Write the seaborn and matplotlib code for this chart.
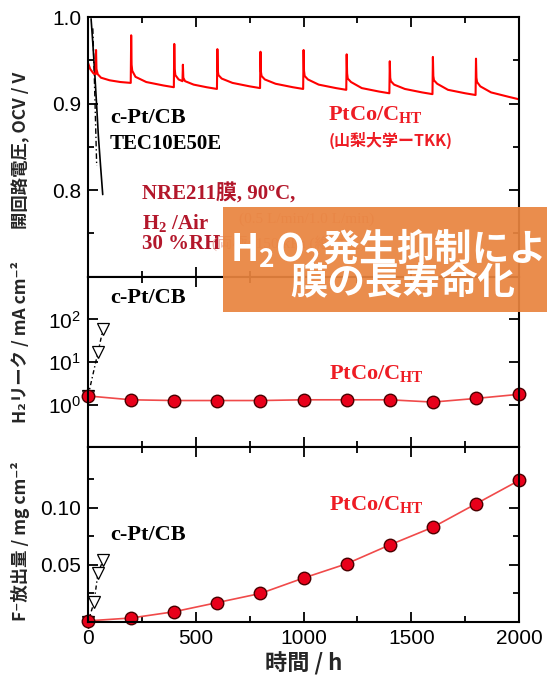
import matplotlib
matplotlib.use("Agg")
import matplotlib.pyplot as plt
import seaborn as sns
import pandas as pd
from matplotlib.patches import Rectangle
from matplotlib.ticker import FixedLocator, NullFormatter, LogLocator, NullLocator

# ---- open-circuit voltage, PtCo/C_HT (durability run) ----
ocv_time = [0, 10, 25, 35, 37, 39, 45, 60, 100, 150, 198,
            200, 202, 205, 220, 270, 350, 398,
            400, 402, 405, 420, 438, 440, 442, 450, 490, 550, 598,
            600, 602, 605, 620, 670, 750, 798,
            800, 802, 805, 820, 870, 950, 998,
            1000, 1002, 1005, 1020, 1070, 1150, 1198,
            1200, 1202, 1205, 1220, 1270, 1350, 1398,
            1400, 1402, 1405, 1420, 1470, 1550, 1598,
            1600, 1602, 1605, 1620, 1670, 1750, 1798,
            1800, 1802, 1805, 1820, 1870, 1950, 2000]
ocv_volt = [0.947, 0.940, 0.935, 0.934, 0.962, 0.940, 0.934, 0.930, 0.927, 0.925, 0.924,
            0.979, 0.945, 0.938, 0.931, 0.925, 0.921, 0.919,
            0.969, 0.940, 0.933, 0.928, 0.926, 0.945, 0.930, 0.926, 0.922, 0.919, 0.917,
            0.963, 0.938, 0.933, 0.929, 0.924, 0.920, 0.918,
            0.960, 0.937, 0.932, 0.928, 0.923, 0.919, 0.917,
            0.962, 0.938, 0.932, 0.928, 0.922, 0.918, 0.916,
            0.957, 0.935, 0.929, 0.925, 0.918, 0.914, 0.912,
            0.949, 0.930, 0.926, 0.922, 0.917, 0.913, 0.911,
            0.954, 0.932, 0.927, 0.923, 0.916, 0.912, 0.910,
            0.952, 0.930, 0.925, 0.920, 0.913, 0.908, 0.905]

# ---- open-circuit voltage, c-Pt/CB (TEC10E50E) ----
ref_ocv_time = [14, 22, 32, 40, 48, 58, 68]
ref_ocv_volt = [0.998, 0.970, 0.931, 0.897, 0.862, 0.828, 0.795]
ref_ocv2_time = [22, 28, 34, 40]
ref_ocv2_volt = [0.987, 0.940, 0.885, 0.828]

# ---- hydrogen crossover current ----
leak_time = [0, 200, 400, 600, 800, 1000, 1200, 1400, 1600, 1800, 2000]
leak_ptco = [1.6, 1.3, 1.25, 1.25, 1.25, 1.3, 1.3, 1.3, 1.15, 1.4, 1.75]
leak_ref_time = [0, 46, 70]
leak_ref = [1.6, 17, 61]

# ---- cumulative fluoride release ----
f_time = [0, 200, 400, 600, 800, 1000, 1200, 1400, 1600, 1800, 2000]
f_ptco = [0.001, 0.0035, 0.009, 0.017, 0.025, 0.0385, 0.051, 0.0675, 0.083, 0.1035, 0.124]
f_ref_time = [0, 28, 46, 70]
f_ref = [0.0, 0.0175, 0.043, 0.054]

x_ticks = [0, 500, 1000, 1500, 2000]
x_minor = [250, 750, 1250, 1750]

RED = "#ee1c24"
LINE_RED = "#f04a4a"
DARK_RED = "#b3172b"

sns.set_theme(style="ticks")
plt.rcParams["font.family"] = ["Liberation Sans", "Noto Sans CJK JP"]
plt.rcParams["mathtext.fontset"] = "custom"
plt.rcParams["mathtext.rm"] = "Liberation Serif:bold"
plt.rcParams["mathtext.bf"] = "Liberation Serif:bold"
plt.rcParams["mathtext.sf"] = "Noto Sans CJK JP:bold"
plt.rcParams["axes.linewidth"] = 1.5

fig = plt.figure(figsize=(5.47, 6.85), dpi=100)
ax1 = fig.add_axes([0.161, 0.596, 0.788, 0.379])
ax2 = fig.add_axes([0.161, 0.347, 0.788, 0.249])
ax3 = fig.add_axes([0.161, 0.092, 0.788, 0.255])

for ax in (ax1, ax2, ax3):
    ax.set_xlim(0, 2000)
    ax.xaxis.set_major_locator(FixedLocator(x_ticks))
    ax.xaxis.set_minor_locator(FixedLocator(x_minor))
    ax.tick_params(which="both", direction="in", top=True, right=True,
                   width=1.3, colors="black", labelsize=15, pad=5)
    ax.tick_params(which="major", length=7)
    ax.tick_params(which="minor", length=4)
    for s in ax.spines.values():
        s.set_color("black")
        s.set_linewidth(1.5)
    ax.set_xlabel("")
    ax.set_ylabel("")
    ax.set_facecolor("white")

# ---------------- OCV panel ----------------
sns.lineplot(x=ref_ocv_time, y=ref_ocv_volt, ax=ax1, color="black", lw=1.2, sort=False)
sns.lineplot(x=ref_ocv2_time, y=ref_ocv2_volt, ax=ax1, color="black", lw=1.0,
             linestyle=(0, (4, 2, 1, 2)), sort=False)
sns.lineplot(x=ocv_time, y=ocv_volt, ax=ax1, color="#ff0000", lw=1.5, sort=False)
ax1.set_ylim(0.70, 1.0)
ax1.yaxis.set_major_locator(FixedLocator([0.8, 0.9, 1.0]))
ax1.yaxis.set_minor_locator(FixedLocator([0.75, 0.85, 0.95]))
ax1.set_yticklabels(["0.8", "0.9", "1.0"])
ax1.tick_params(labelbottom=False)

serif_b = dict(family=["Liberation Serif", "Noto Sans CJK JP"], fontweight="bold")
ax1.text(102, 0.884, "c-Pt/CB", fontsize=16, color="black", va="center", **serif_b)
ax1.text(102, 0.853, "TEC10E50E", fontsize=15, color="black", va="center", **serif_b)
ax1.text(1114, 0.887, r"PtCo/C$_{\mathbf{HT}}$", fontsize=16, color=RED, va="center", **serif_b)
ax1.text(1114, 0.857, "(山梨大学ーTKK)", fontsize=11.5, color=RED, va="center",
         family=["Noto Sans CJK JP"], fontweight="bold")
ax1.text(251, 0.795, "NRE211膜, 90ºC,", fontsize=15, color=DARK_RED, va="center", **serif_b)
ax1.text(251, 0.761, r"H$_2$ /Air", fontsize=15, color=DARK_RED, va="center", **serif_b)
ax1.text(251, 0.738, "30 %RH", fontsize=15, color=DARK_RED, va="center", **serif_b)
ax1.text(700, 0.766, "(0.5 L/min/1.0 L/min)", fontsize=11, color="#e7b0a8", va="center",
         family=["Liberation Serif", "Noto Sans CJK JP"])
ax1.text(575, 0.739, "(両極: 150 kPa (絶対圧))", fontsize=11, color="#e7b0a8", va="center",
         family=["Liberation Serif", "Noto Sans CJK JP"])

# ---------------- H2 crossover panel ----------------
sns.lineplot(x=leak_ref_time, y=leak_ref, ax=ax2, color="black", lw=1.0,
             linestyle=(0, (3, 2, 1, 2)), marker="v", markersize=8,
             markerfacecolor="white", markeredgecolor="black", markeredgewidth=0.9, sort=False)
sns.lineplot(x=leak_time, y=leak_ptco, ax=ax2, color=LINE_RED, lw=1.2, marker="o",
             markersize=9, markerfacecolor="#e8001a", markeredgecolor="#4a0000",
             markeredgewidth=1.0, sort=False)
ax2.set_yscale("log")
ax2.set_ylim(0.1, 1000)
ax2.yaxis.set_major_locator(FixedLocator([1, 10, 100]))
ax2.yaxis.set_minor_locator(NullLocator())
ax2.set_yticklabels([r"$\mathdefault{10^{0}}$", r"$\mathdefault{10^{1}}$", r"$\mathdefault{10^{2}}$"])
ax2.tick_params(labelbottom=False)
ax2.text(102, 316, "c-Pt/CB", fontsize=16, color="black", va="center", **serif_b)
ax2.text(1118, 5.2, r"PtCo/C$_{\mathbf{HT}}$", fontsize=16, color=RED, va="center", **serif_b)

# ---------------- fluoride release panel ----------------
sns.lineplot(x=f_ref_time, y=f_ref, ax=ax3, color="black", lw=1.0,
             linestyle=(0, (3, 2, 1, 2)), marker="v", markersize=8,
             markerfacecolor="white", markeredgecolor="black", markeredgewidth=0.9, sort=False)
sns.lineplot(x=f_time, y=f_ptco, ax=ax3, color=LINE_RED, lw=1.2, marker="o",
             markersize=9, markerfacecolor="#e8001a", markeredgecolor="#4a0000",
             markeredgewidth=1.0, sort=False)
for ln in ax3.lines + ax2.lines:
    ln.set_clip_on(False)
ax3.set_ylim(0, 0.153)
ax3.yaxis.set_major_locator(FixedLocator([0.05, 0.10]))
ax3.yaxis.set_minor_locator(FixedLocator([0.025, 0.075, 0.125]))
ax3.set_yticklabels(["0.05", "0.10"])
ax3.set_xticklabels([str(v) for v in x_ticks])
ax3.text(102, 0.0763, "c-Pt/CB", fontsize=16, color="black", va="center", **serif_b)
ax3.text(1118, 0.1026, r"PtCo/C$_{\mathbf{HT}}$", fontsize=16, color=RED, va="center", **serif_b)
ax3.set_xlabel("時間 / h", fontsize=16, fontweight="bold",
               family=["Noto Sans CJK JP", "DejaVu Sans"], labelpad=3)

# ---------------- axis titles ----------------
lab = dict(rotation=90, ha="center", va="center", fontsize=12.5, fontweight="bold",
           family=["Noto Sans CJK JP", "DejaVu Sans"])
fig.text(21 / 547, 1 - 150 / 685, "開回路電圧, OCV / V", **lab)
fig.text(21 / 547, 1 - 342 / 685, "H₂リーク / mA cm⁻²", **lab)
fig.text(21 / 547, 1 - 541 / 685, "F⁻放出量 / mg cm⁻²", **lab)

# ---------------- highlighted message ----------------
fig.patches.append(Rectangle((223 / 547, 1 - 312 / 685), (547 - 223) / 547, 105 / 685,
                             transform=fig.transFigure, facecolor="#e9843f",
                             edgecolor="none", alpha=0.93, zorder=10))
fig.text(405 / 547, 1 - 248 / 685, r"H$_{\mathsf{2}}$O$_{\mathsf{2}}$発生抑制による",
         ha="center", va="center", fontsize=27, color="white", fontweight="bold",
         family=["Noto Sans CJK JP"], zorder=11)
fig.text(403 / 547, 1 - 283 / 685, "膜の長寿命化",
         ha="center", va="center", fontsize=27, color="white", fontweight="bold",
         family=["Noto Sans CJK JP"], zorder=11)

fig.savefig("out.png", dpi=100, facecolor="white")
